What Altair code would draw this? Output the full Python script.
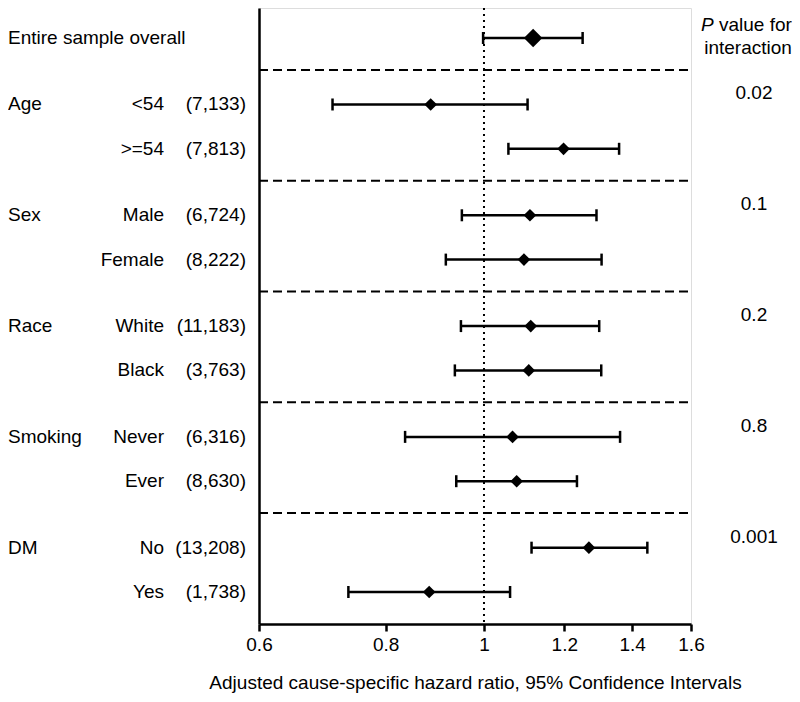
import altair as alt
import pandas as pd

FONT = "Liberation Sans"

# ---- data ----
subgroups = ["", "<54", ">=54", "Male", "Female", "White", "Black", "Never", "Ever", "No", "Yes"]
counts = ["", "(7,133)", "(7,813)", "(6,724)", "(8,222)", "(11,183)", "(3,763)",
          "(6,316)", "(8,630)", "(13,208)", "(1,738)"]
hr = [1.118, 0.886, 1.198, 1.110, 1.095, 1.112, 1.107, 1.067, 1.077, 1.269, 0.883]
lo = [0.998, 0.709, 1.057, 0.951, 0.917, 0.949, 0.936, 0.836, 0.939, 1.114, 0.735]
hi = [1.251, 1.104, 1.359, 1.291, 1.306, 1.299, 1.305, 1.362, 1.235, 1.449, 1.061]
rows = [0, 1.5, 2.5, 4, 5, 6.5, 7.5, 9, 10, 11.5, 12.5]
overall = [True] + [False] * 10

group_names = ["Entire sample overall", "Age", "Sex", "Race", "Smoking", "DM"]
group_rows = [0, 1.5, 4, 6.5, 9, 11.5]

p_values = ["0.02", "0.1", "0.2", "0.8", "0.001"]
p_rows = [1.5, 4, 6.5, 9, 11.5]

sep_rows = [0.72, 3.22, 5.72, 8.22, 10.72]
x_ticks = [0.6, 0.8, 1, 1.2, 1.4, 1.6]

W, H = 432, 616

df = pd.DataFrame(dict(sub=subgroups, n=counts, hr=hr, lo=lo, hi=hi, row=rows, overall=overall))
gdf = pd.DataFrame(dict(name=group_names, row=group_rows))
pdf = pd.DataFrame(dict(p=p_values, row=p_rows))
sdf = pd.DataFrame(dict(row=sep_rows))
hdf = pd.DataFrame(dict(row=[0]))
refdf = pd.DataFrame(dict(x=[1.0]))

xscale = alt.Scale(type="log", domain=[0.6, 1.6], nice=False)
yscale = alt.Scale(domain=[-0.677, 13.222], reverse=True, nice=False, zero=False)

xaxis = alt.Axis(values=x_ticks, format=".1~f", title="Adjusted cause-specific hazard ratio, 95% Confidence Intervals",
                 grid=False, domainColor="black", domainWidth=2.5, tickColor="black", tickWidth=2.5,
                 tickSize=7, labelFont=FONT, labelFontSize=19, labelColor="black", labelPadding=4,
                 titleFont=FONT, titleFontSize=19, titleFontWeight="normal", titleColor="black",
                 titlePadding=19, labelFlush=False)
yaxis = alt.Axis(labels=False, ticks=False, grid=False, title=None, domainColor="black", domainWidth=2.5)

base = alt.Chart(df)

Y = alt.Y("row:Q", scale=yscale, axis=yaxis)

# dotted reference line at HR = 1
ref = alt.Chart(refdf).mark_rule(color="black", strokeWidth=2, strokeDash=[2, 4]).encode(
    x=alt.X("x:Q", scale=xscale, axis=xaxis)
)

# dashed separators
seps = alt.Chart(sdf).mark_rule(color="black", strokeWidth=2, strokeDash=[9, 5]).encode(
    y=Y, x=alt.value(0), x2=alt.value(W)
)

ci = base.mark_rule(color="black", strokeWidth=2.5).encode(
    x=alt.X("lo:Q", scale=xscale, axis=xaxis), x2="hi:Q", y=Y
)
cap_lo = base.mark_tick(color="black", orient="vertical", thickness=2.5, size=12, opacity=1).encode(
    x=alt.X("lo:Q", scale=xscale), y=Y
)
cap_hi = base.mark_tick(color="black", orient="vertical", thickness=2.5, size=12, opacity=1).encode(
    x=alt.X("hi:Q", scale=xscale), y=Y
)
pts = base.mark_point(shape="diamond", filled=True, color="black", opacity=1).encode(
    x=alt.X("hr:Q", scale=xscale), y=Y,
    size=alt.Size("overall:N", scale=alt.Scale(domain=[False, True], range=[160, 340]), legend=None),
)

txt = dict(font=FONT, fontSize=19, color="black", baseline="middle")

glabels = alt.Chart(gdf).mark_text(align="left", **txt).encode(
    x=alt.value(-251), y=Y, text="name:N"
)
slabels = base.mark_text(align="right", **txt).encode(
    x=alt.value(-95), y=Y, text="sub:N"
)
nlabels = base.mark_text(align="right", **txt).encode(
    x=alt.value(-13), y=Y, text="n:N"
)
plabels = alt.Chart(pdf).mark_text(align="center", dy=-11, **txt).encode(
    x=alt.value(495), y=Y, text="p:N"
)
ph1 = alt.Chart(hdf).mark_text(align="left", dy=-13, fontStyle="italic", **txt).encode(
    x=alt.value(442), y=Y, text=alt.value("P")
)
ph2 = alt.Chart(hdf).mark_text(align="left", dy=-13, **txt).encode(
    x=alt.value(460), y=Y, text=alt.value("value for")
)
ph3 = alt.Chart(hdf).mark_text(align="center", dy=10, **txt).encode(
    x=alt.value(489), y=Y, text=alt.value("interaction")
)

chart = alt.layer(
    ref, seps, ci, cap_lo, cap_hi, pts, glabels, slabels, nlabels, plabels, ph1, ph2, ph3
).properties(
    width=W, height=H,
    autosize=alt.AutoSizeParams(type="none"),
    padding={"left": 251, "top": 0, "right": 101, "bottom": 70},
).configure_view(stroke=None).configure(background="white")

chart.save("out.html", embed_options={"renderer": "svg", "actions": False})
